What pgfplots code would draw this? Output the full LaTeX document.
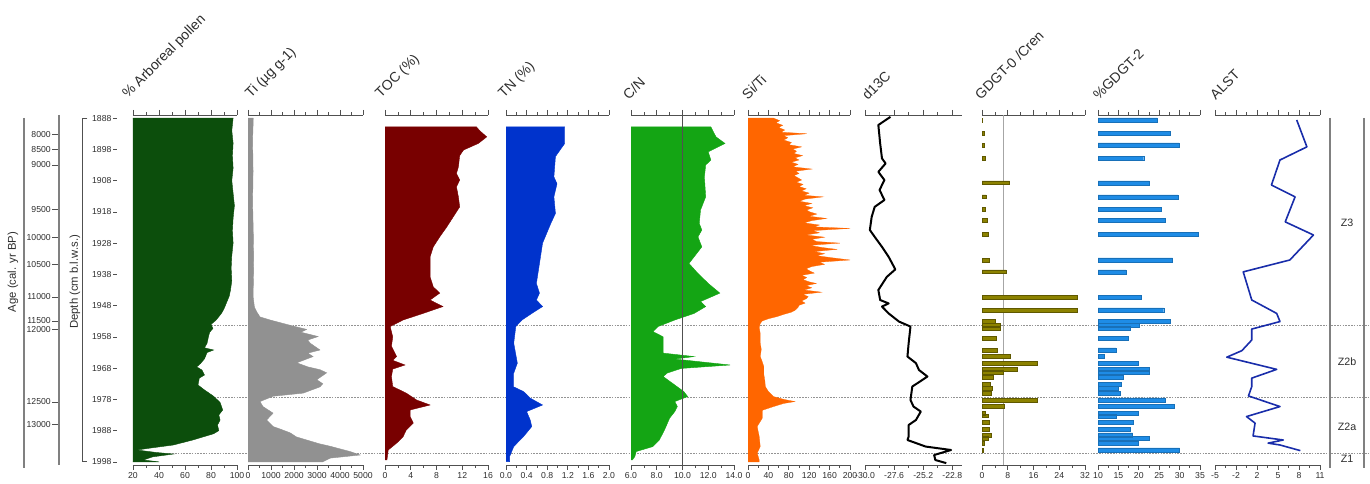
\documentclass[border=0pt]{standalone}
\usepackage{pgfplots}
\pgfplotsset{compat=1.18}
\usepackage{fontspec}
\setmainfont{Liberation Sans}

\definecolor{arb}{RGB}{12,78,12}
\definecolor{tigray}{RGB}{145,145,145}
\definecolor{toc}{RGB}{120,0,0}
\definecolor{tn}{RGB}{0,51,204}
\definecolor{cn}{RGB}{20,165,20}
\definecolor{siti}{RGB}{255,102,0}
\definecolor{gdgt}{RGB}{140,130,0}
\definecolor{gdgtedge}{RGB}{95,88,0}
\definecolor{gdgtb}{RGB}{30,140,230}
\definecolor{alst}{RGB}{25,45,170}
\definecolor{axc}{RGB}{80,80,80}
\definecolor{txt}{RGB}{45,45,45}

\pgfplotsset{
  panel/.style={
    scale only axis, height=262.5pt, anchor=center,
    ymin=1887, ymax=1999, y dir=reverse,
    axis x line*=box, axis y line=none,
    xticklabel pos=lower, tick align=outside,
    x axis line style={axc, line width=0.6pt},
    every tick/.style={axc, line width=0.5pt},
    major tick length=3.75pt, minor tick length=2.2pt, minor x tick num=1,
    ytick=\empty,
    xticklabel style={font=\fontsize{6.5}{7}\selectfont, text=txt, inner sep=1.5pt},
  },
  leftline/.style={axis y line*=left, y axis line style={gray, line width=0.8pt}},
}
\tikzset{ttl/.style={rotate=45, anchor=south west, font=\fontsize{10.5}{12}\selectfont, text=txt, inner sep=0pt}}

\begin{document}
\begin{tikzpicture}
\path[use as bounding box] (0,0) rectangle (1027.5pt,363pt);

% zone boundaries (dotted)
\foreach \yy in {118.6,64.65,22.7}
  \draw[gray!85, line width=0.9pt, dash pattern=on 1.2pt off 0.9pt] (99.75pt,\yy pt) -- (1027.5pt,\yy pt);
% zone column
\draw[gray, line width=0.8pt] (997.5pt,274.5pt) -- (997.5pt,12pt);
\draw[gray, line width=0.8pt] (1023pt,274.5pt) -- (1023pt,12pt);
\node[font=\fontsize{8}{9}\selectfont, text=txt] at (1010.25pt,195.75pt) {Z3};
\node[font=\fontsize{8}{9}\selectfont, text=txt] at (1010.25pt,91.5pt) {Z2b};
\node[font=\fontsize{8}{9}\selectfont, text=txt] at (1010.25pt,42.75pt) {Z2a};
\node[font=\fontsize{8}{9}\selectfont, text=txt] at (1010.25pt,18.75pt) {Z1};

% left bracket lines
\draw[axc, line width=0.7pt] (65.5pt,274.4pt) -- (61.5pt,274.4pt) -- (61.5pt,16.6pt) -- (65.5pt,16.6pt);
\draw[gray, line width=0.8pt] (18pt,274.5pt) -- (18pt,12pt);
\node[rotate=90, font=\fontsize{8.5}{10}\selectfont, text=txt] at (9.75pt,159pt) {Age (cal. yr BP)};
\node[rotate=90, font=\fontsize{8.5}{10}\selectfont, text=txt] at (56.25pt,151.5pt) {Depth (cm b.l.w.s.)};

% Age axis
\begin{axis}[scale only axis, width=7.5pt, height=262.5pt, at={(48pt,145.5pt)}, anchor=center,
  ymin=1887, ymax=1999, y dir=reverse, xmin=0, xmax=1,
  axis x line=none, axis y line*=left, y axis line style={gray, line width=0.8pt},
  tick align=outside, major tick length=5pt, every tick/.style={axc, line width=0.5pt},
  ytick={1893.1,1897.9,1903.0,1917.1,1926.1,1934.7,1945.2,1952.9,1955.5,1978.8,1985.9},
  yticklabels={8000,8500,9000,9500,10000,10500,11000,11500,12000,12500,13000},
  yticklabel style={font=\fontsize{6.5}{7}\selectfont, text=txt, inner sep=1pt}]
\end{axis}

% Depth axis
\begin{axis}[scale only axis, width=7.5pt, height=262.5pt, at={(91.5pt,145.5pt)}, anchor=center,
  ymin=1887, ymax=1999, y dir=reverse, xmin=0, xmax=1,
  axis x line=none, axis y line*=left, y axis line style={draw=none},
  tick align=outside, major tick length=3pt, every tick/.style={axc, line width=0.5pt},
  ytick={1888,1898,...,1998},
  yticklabels={1888,1898,1908,1918,1928,1938,1948,1958,1968,1978,1988,1998},
  yticklabel style={font=\fontsize{6.5}{7}\selectfont, text=txt, inner sep=1pt}]
\end{axis}

% 1 Arboreal pollen
\begin{axis}[panel, width=78pt, at={(138.75pt,145.5pt)}, xmin=20, xmax=100,
  xtick={20,40,60,80,100}, xticklabels={20,40,60,80,100}]
\addplot[fill=arb, draw=arb, line width=0.3pt] coordinates {
(20,1888) (97,1888) (96,1892) (97,1896) (96.5,1900) (97,1904) (96,1908) (97,1912) (98,1916)
(97,1920) (96.5,1924) (97,1928) (96,1932) (95.5,1936) (96,1940) (95,1943) (94,1945) (92,1947)
(90,1949) (88,1950.5) (84,1952.6) (80,1954) (81.5,1955.3) (79,1956.5) (78,1958) (77,1960)
(75,1961.5) (82,1962.2) (77,1963) (75,1965) (72,1966.5) (69,1967.6) (73,1968.6) (75,1970.2)
(71,1971.2) (70,1973.4) (75,1975) (82,1977) (87,1979) (89,1981.4) (86,1983) (87,1984.6)
(85,1986.2) (86,1988) (82,1989) (66,1991) (51,1992.6) (33,1993.6) (23,1994.2) (38,1995)
(51,1995.5) (35,1996.4) (28,1997.4) (40,1998) (20,1998)};
\end{axis}
\node[ttl] at (97.5pt,287.25pt) {\% Arboreal pollen};

% 2 Ti
\begin{axis}[panel, width=86.25pt, at={(229.125pt,145.5pt)}, xmin=0, xmax=5000,
  xtick={0,1000,...,5000}, xticklabels={0,1000,2000,3000,4000,5000}]
\addplot[fill=tigray, draw=tigray, line width=0.3pt] coordinates {
(0,1888) (230,1888) (200,1895) (220,1905) (200,1915) (230,1925) (250,1935) (220,1945)
(280,1948.5) (380,1950) (520,1951.6) (960,1952.6) (1680,1954) (2550,1955.6) (2300,1956.5)
(3050,1957.9) (2600,1959) (2700,1960) (3130,1962.2) (2600,1963.2) (2830,1964.3) (2120,1966.3)
(2600,1967.6) (3130,1968.5) (3420,1969.5) (2990,1971.7) (3250,1973) (3130,1974) (2400,1976)
(1090,1977) (520,1978.7) (650,1980.3) (1090,1982.4) (810,1984.6) (1090,1986.7) (1400,1987.5)
(1830,1988.7) (2100,1990) (2550,1991) (3100,1992.2) (3570,1993) (4440,1994.7) (4870,1995.8)
(3570,1996.8) (3250,1998) (0,1998)};
\end{axis}
\node[ttl] at (189.75pt,287.25pt) {Ti (µg g-1)};

% 3 TOC
\begin{axis}[panel, width=77.25pt, at={(327.375pt,145.5pt)}, xmin=0, xmax=16,
  xtick={0,4,8,12,16}, xticklabels={0,4,8,12,16}]
\addplot[fill=toc, draw=toc, line width=0.3pt] coordinates {
(0,1890.8) (14.2,1890.8) (14.7,1892) (15.8,1894) (14.5,1896.1) (12.2,1898.2) (11.6,1900)
(11.4,1903.6) (11.1,1905.7) (11.6,1907.8) (11.1,1910) (11.4,1913.2) (11.6,1916.4) (10.6,1919.6)
(9.6,1922.8) (8.5,1926) (7.5,1929.2) (7.0,1932.4) (7.0,1935.6) (7.0,1938.8) (7.5,1942)
(8.5,1944) (7.0,1946.2) (9.0,1948.3) (5.9,1950.5) (2.8,1952.6) (0.8,1954.7) (1.2,1958)
(1.0,1961) (1.8,1964.3) (1.2,1965.5) (3.1,1967) (1.2,1968.3) (1.0,1970.7) (1.2,1973.9)
(3.3,1976) (4.9,1978.2) (7.0,1979.8) (3.9,1981.4) (3.9,1983.5) (4.4,1985.6) (3.3,1987.8)
(2.8,1990) (1.8,1992) (0.5,1994.2) (0.3,1997.4) (0,1997.4)};
\end{axis}
\node[ttl] at (287.25pt,287.25pt) {TOC (\%)};

% 4 TN
\begin{axis}[panel, width=77.25pt, at={(418.125pt,145.5pt)}, xmin=0, xmax=2,
  xtick={0,0.4,0.8,1.2,1.6,2.0}, xticklabels={0.0,0.4,0.8,1.2,1.6,2.0}]
\addplot[fill=tn, draw=tn, line width=0.3pt] coordinates {
(0,1890.8) (1.14,1890.8) (1.14,1896.1) (1.05,1898.2) (0.96,1900.3) (0.93,1906.8) (0.99,1909)
(0.93,1913.2) (0.96,1918.5) (0.87,1921.7) (0.71,1928) (0.65,1934.5) (0.59,1940.9) (0.65,1944)
(0.59,1946.2) (0.71,1948.3) (0.50,1950.5) (0.31,1952.6) (0.19,1954.7) (0.15,1960) (0.22,1966.4)
(0.15,1969.6) (0.15,1974) (0.34,1975.5) (0.47,1977.6) (0.71,1979.8) (0.40,1981.9) (0.47,1984.6)
(0.50,1986.7) (0.34,1989.9) (0.15,1993.1) (0.07,1996.3) (0.07,1997.9) (0,1997.9)};
\end{axis}
\node[ttl] at (379.5pt,287.25pt) {TN (\%)};

% 5 C/N
\begin{axis}[panel, width=77.25pt, at={(511.875pt,145.5pt)}, xmin=6, xmax=14,
  xtick={6,8,10,12,14}, xticklabels={6.0,8.0,10.0,12.0,14.0}]
\addplot[fill=cn, draw=cn, line width=0.3pt] coordinates {
(6,1890.8) (12.2,1890.8) (12.6,1894) (13.3,1896.1) (12.0,1898.8) (12.2,1901.4) (11.8,1903)
(11.7,1906.8) (11.8,1913.2) (11.4,1917.4) (11.3,1921.7) (11.5,1923.8) (11.2,1926) (11.5,1929.2)
(10.9,1932.4) (10.5,1934.5) (11.2,1937.7) (12.0,1940.9) (12.9,1944) (11.4,1946.7) (11.8,1948.3)
(10.9,1950.5) (9.4,1952.6) (8.1,1954.7) (7.7,1956.3) (8.5,1958) (8.5,1960) (8.5,1963.2)
(10.9,1964.3) (9.4,1965.1) (13.7,1967) (9.9,1968.1) (8.8,1969.6) (8.5,1970.7) (9.2,1972.8)
(10.1,1975.5) (10.4,1977.1) (9.4,1978.7) (9.6,1980.3) (9.4,1981.9) (9.0,1984) (8.6,1987.8)
(8.2,1991) (7.7,1993.1) (6.4,1994.7) (6.3,1996.3) (6.1,1997.4) (6,1997.4)};
\draw[axc, line width=0.8pt] (axis cs:10,1887) -- (axis cs:10,1999);
\end{axis}
\node[ttl] at (471.75pt,287.25pt) {C/N};

% 6 Si/Ti
\begin{axis}[panel, width=76.5pt, at={(599.25pt,145.5pt)}, xmin=0, xmax=200,
  xtick={0,40,...,200}, xticklabels={0,40,80,120,160,200}]
\addplot[fill=siti, draw=siti, line width=0.2pt] coordinates {
(0,1888) (50,1888) (62,1888.8) (55,1889.5) (68,1890.3) (60,1891) (72,1891.8) (65,1892.5)
(115,1893) (70,1893.6) (78,1894.3) (70,1895) (85,1895.8) (80,1896.5) (105,1897.2) (88,1897.9)
(95,1898.6) (90,1899.3) (107,1900) (92,1900.7) (100,1901.4) (85,1902.1) (98,1902.8) (88,1903.6)
(125,1904.3) (93,1905) (100,1905.7) (90,1906.4) (98,1907.1) (105,1907.8) (95,1908.5) (108,1909.2)
(100,1909.9) (114,1910.6) (105,1911.3) (120,1912) (110,1912.7) (147,1913.2) (112,1913.9)
(101,1914.6) (125,1915.3) (110,1916) (127,1916.7) (115,1917.4) (121,1918) (135,1918.7)
(120,1919.4) (154,1920.1) (125,1920.8) (110,1921.5) (140,1922.2) (130,1922.8) (200,1923.3)
(127,1924) (140,1924.7) (114,1925.4) (150,1926.1) (125,1926.8) (135,1927.5) (180,1928)
(121,1928.7) (145,1929.4) (174,1930) (130,1930.7) (150,1931.4) (134,1932) (165,1932.7)
(200,1933.4) (140,1934.1) (150,1934.8) (125,1935.5) (114,1936.2) (121,1936.9) (130,1937.6)
(105,1938.3) (115,1939) (108,1939.7) (120,1940.4) (134,1940.9) (114,1941.6) (125,1942.3)
(110,1943) (144,1943.7) (107,1944.4) (118,1945.1) (114,1945.8) (105,1946.5) (112,1947.2)
(100,1947.9) (98,1948.6) (93,1949.4) (85,1950.1) (70,1950.8) (57,1951.5) (40,1952.2)
(28,1952.9) (24,1953.7) (22,1955) (24,1957) (24,1960) (26,1962) (24,1964.3) (28,1966)
(31,1967.5) (31,1970) (33,1972) (34,1973.9) (40,1975.5) (50,1977.1) (70,1978) (92,1978.7)
(70,1979.3) (50,1980.3) (28,1981.5) (28,1984) (18,1986.7) (22,1989.9) (24,1993.1) (18,1995.2)
(22,1997.4) (22,1998) (0,1998)};
\end{axis}
\node[ttl] at (561pt,287.25pt) {Si/Ti};

% 7 d13C
\begin{axis}[panel, leftline, width=72.75pt, at={(685.125pt,145.5pt)}, xmin=-30, xmax=-22,
  xtick={-30,-27.6,-25.2,-22.8}, xticklabels={-30.0,-27.6,-25.2,-22.8}]
\addplot[black, line width=1.5pt, line join=round] coordinates {
(-27.9,1887.6) (-28.9,1890.2) (-28.75,1896.1) (-28.6,1900.9) (-28.3,1902.5) (-28.9,1905.2)
(-28.4,1907.8) (-28.8,1911) (-28.4,1914.2) (-29.2,1916.4) (-29.45,1919.6) (-29.6,1923.8)
(-29.2,1926) (-28.6,1929.2) (-28.05,1932.4) (-27.5,1936.4) (-28.2,1938.8) (-28.9,1943)
(-28.75,1946.2) (-28.05,1947.3) (-28.6,1948.3) (-28.05,1950.5) (-27.2,1953.1) (-26.25,1954.7)
(-26.4,1960) (-26.5,1964.3) (-25.8,1966.4) (-25.55,1968.6) (-24.85,1970.7) (-26.1,1973.9)
(-26.25,1978.2) (-26,1980.3) (-25.4,1981.9) (-25.8,1984.6) (-26.4,1986.2) (-26.4,1989.9)
(-26.5,1991) (-25,1993.1) (-22.9,1994.2) (-24.3,1995.8) (-24.2,1997.4) (-23.3,1998.4)};
\end{axis}
\node[ttl] at (651pt,287.25pt) {d13C};

% 8 GDGT-0/Cren
\begin{axis}[panel, leftline, width=77.25pt, at={(775.125pt,145.5pt)}, xmin=0, xmax=32,
  xtick={0,8,16,24,32}, xticklabels={0,8,16,24,32}]
\draw[gray!70, line width=1pt] (axis cs:6.7,1887) -- (axis cs:6.7,1999);
\addplot[xbar, bar width=1.2, bar shift=0pt, fill=gdgt, draw=gdgtedge, line width=0.5pt] coordinates {
(0.2,1888.6) (0.7,1892.9) (0.6,1896.6) (0.9,1900.9) (8.6,1908.7) (1.3,1913.2) (0.9,1917.1)
(1.5,1920.8) (2.1,1925.1) (2.4,1933.4) (7.5,1937.2) (29.7,1945.3) (29.7,1949.4) (4.0,1953.1)
(5.6,1954.2) (5.8,1955.3) (4.6,1958.5) (4.8,1962.2) (8.8,1964.3) (17.3,1966.4) (11,1968.4)
(6.6,1969.4) (3.4,1971) (2.7,1973.2) (3.2,1974.5) (2.9,1976) (17.3,1978.2) (6.8,1980.3)
(1,1982.4) (2.1,1983.3) (2.4,1985.4) (2.4,1987.6) (2.9,1989.4) (2.1,1990.4) (0.7,1992)
(0.5,1994.2)};
\end{axis}
\node[ttl] at (735.75pt,287.25pt) {GDGT-0 /Cren};

% 9 %GDGT-2
\begin{axis}[panel, leftline, width=76.5pt, at={(861.75pt,145.5pt)}, xmin=10, xmax=35,
  xtick={10,15,...,35}, xticklabels={10,15,20,25,30,35}]
\addplot[xbar, bar width=1.3, bar shift=0pt, fill=gdgtb, draw=gdgtb!80!black, line width=0.3pt] coordinates {
(24.5,1888.6) (27.6,1892.9) (29.9,1896.6) (21.2,1900.9) (22.6,1908.7) (29.6,1913.2) (25.6,1917.1)
(26.4,1920.8) (34.5,1925.1) (28.3,1933.4) (16.8,1937.2) (20.6,1945.3) (26.1,1949.4) (27.8,1953.1)
(20.2,1954.2) (18,1955.3) (17.4,1958.5) (14.4,1962.2) (11.6,1964.3) (19.9,1966.4) (22.6,1968.4)
(22.6,1969.4) (16.2,1971) (15.8,1973.2) (15,1974.5) (15.5,1976) (26.4,1978.2) (28.6,1980.3)
(19.9,1982.4) (14.4,1983.3) (18.7,1985.4) (17.9,1987.6) (18.5,1989.4) (22.6,1990.4) (19.9,1992)
(30,1994.2)};
\end{axis}
\node[ttl] at (824.25pt,287.25pt) {\%GDGT-2};

% 10 ALST
\begin{axis}[panel, leftline, width=78.75pt, at={(950.625pt,145.5pt)}, xmin=-5, xmax=11,
  xtick={-5,-1.8,1.4,4.6,7.8,11}, xticklabels={-5,-2,2,5,8,11}]
\addplot[alst, line width=1.2pt, line join=round] coordinates {
(7.45,1888.6) (9.0,1897.2) (4.9,1901.4) (3.6,1909.4) (7.2,1913.2) (5.7,1921.2) (10.0,1925.4)
(6.4,1933.4) (-0.7,1937.2) (0.6,1946.2) (4.4,1950.5) (4.9,1953.1) (0.6,1955.5) (0.6,1959)
(-0.9,1962.4) (-3.2,1964.5) (4.4,1968.4) (0.6,1971.2) (0.6,1973.9) (0.1,1976.9) (4.9,1980.3)
(-0.2,1983.5) (1.1,1985.6) (0.8,1989.7) (5.4,1991) (3.1,1992) (4.9,1992.6) (8.0,1994.4)};
\end{axis}
\node[ttl] at (912pt,287.25pt) {ALST};

\end{tikzpicture}
\end{document}
